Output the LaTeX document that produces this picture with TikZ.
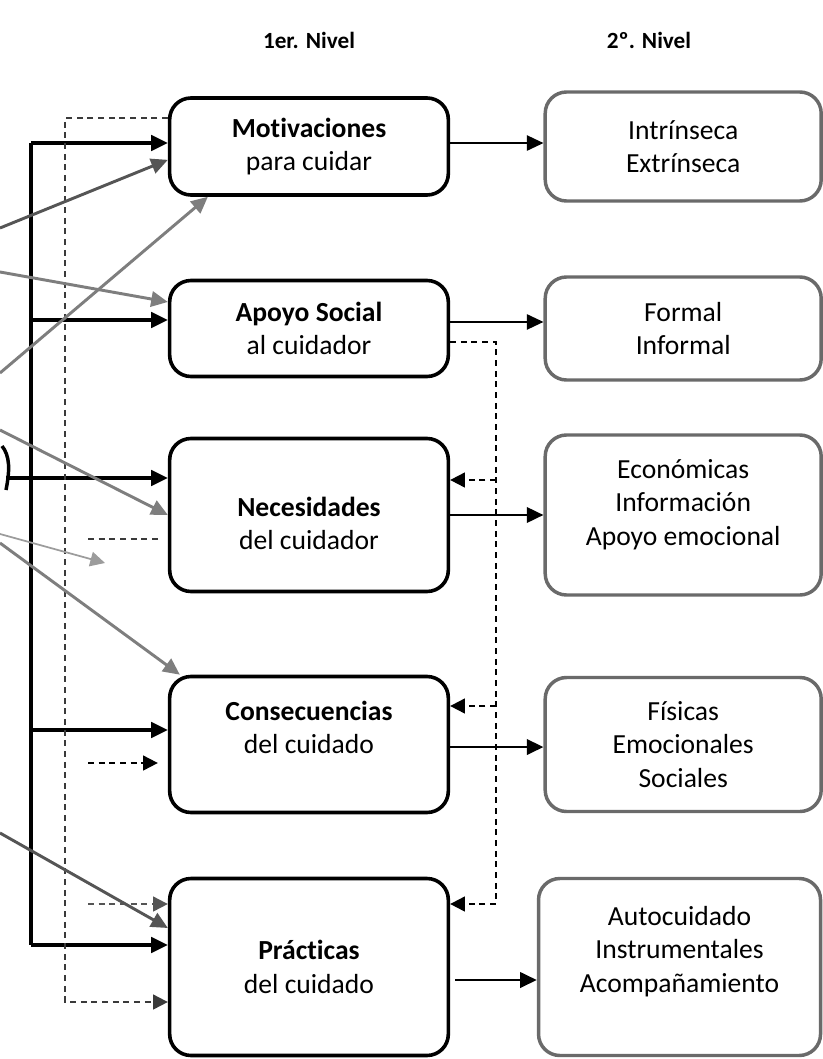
\documentclass[tikz,border=0pt]{standalone}
\usepackage{fontspec}
\setmainfont{Carlito}[Ligatures=CommonOff]
\usetikzlibrary{arrows.meta,positioning}

\definecolor{grisbox}{HTML}{6A6A6A}
\definecolor{grisosc}{HTML}{555555}
\definecolor{grismed}{HTML}{7E7E7E}
\definecolor{grisclaro}{HTML}{9C9C9C}
\definecolor{grisraya}{HTML}{3A3A3A}

\tikzset{
  nivel/.style={draw, line width=2.7pt, rounded corners=16pt, minimum width=209pt,
    align=center, inner sep=0pt, font=\fontsize{20.7}{25}\selectfont},
  detalle/.style={draw=grisbox, line width=2.6pt, rounded corners=16pt, minimum width=207pt,
    align=center, inner sep=0pt, font=\fontsize{20.7}{25}\selectfont},
  titulo/.style={font=\fontsize{17.4}{20}\selectfont\bfseries},
  flecha/.style={-{Triangle[length=12.5pt,width=11.5pt]}},
  flechita/.style={-{Triangle[length=11pt,width=11pt]}},
  tronco/.style={line width=2.6pt},
  fina/.style={line width=1.3pt},
  media/.style={line width=2pt},
  rayas/.style={grisraya, line width=1.5pt, dash pattern=on 4.5pt off 3.5pt},
  grisa/.style={grisosc, line width=2.2pt, flecha},
  grisb/.style={grismed, line width=2.2pt, flecha},
  grisc/.style={grisclaro, line width=1.3pt, flechita}
}

\begin{document}
\begin{tikzpicture}[x=0.75pt,y=-0.75pt]
\useasboundingbox (0,0) rectangle (823,1059);

% encabezados
\node[titulo] (niv1) at (309,40) {1er. Nivel};
\node[titulo] (niv2) at (649,40) {2º. Nivel};

% primer nivel
\node[nivel, minimum height=72.75pt] (mot) at (309,146.5) {\textbf{Motivaciones}\\para cuidar};
\node[nivel, minimum height=72pt] (apo) at (309,328.5) {\textbf{Apoyo Social}\\al cuidador};
\node[nivel, minimum height=114.75pt] (nec) at (309,515) {\mbox{}\\[2.5pt]\textbf{Necesidades}\\del cuidador};
\node[nivel, minimum height=102pt] (con) at (309,744.5) {\textbf{Consecuencias}\\del cuidado\\[0.5pt]\mbox{}};
\node[nivel, minimum height=132.75pt] (pra) at (309,967) {\textbf{Prácticas}\\del cuidado};

% segundo nivel
\node[detalle, minimum height=81.75pt, right=70pt of mot] (int) {Intrínseca\\Extrínseca};
\node[detalle, minimum height=77.25pt, right=70pt of apo] (for) {Formal\\Informal};
\node[detalle, minimum height=120pt, right=70pt of nec] (eco) {Económicas\\Información\\Apoyo emocional\\[-6pt]\mbox{}};
\node[detalle, minimum height=100.5pt, right=70pt of con] (fis) {Físicas\\Emocionales\\Sociales};
\node[detalle, minimum height=132.75pt, minimum width=211.5pt, right=65pt of pra] (aut) {Autocuidado\\Instrumentales\\Acompañamiento\\[1.5pt]\mbox{}};

% del primero al segundo
\draw[fina, flecha] ([yshift=2.6pt]mot.east) -- ([yshift=2.6pt]mot.east -| int.west);
\draw[fina, flecha] ([yshift=4.9pt]apo.east) -- ([yshift=4.9pt]apo.east -| for.west);
\draw[media, flecha] (nec.east) -- (nec.east -| eco.west);
\draw[media, flecha] ([yshift=-1.9pt]con.east) -- ([yshift=-1.9pt]con.east -| fis.west);
\draw[media, flecha] ([xshift=4pt,yshift=-9.75pt]pra.east) -- ([yshift=-9.75pt]pra.east -| aut.west);

% tronco de la izquierda
\coordinate (tA) at (31,143);
\coordinate (tB) at (31,320);
\coordinate (tC) at (31,730);
\coordinate (tD) at (31,945);
\draw[tronco] (tA) -- (tD);
\draw[tronco, flecha] (tA) -- (tA -| mot.west);
\draw[tronco, flecha] (tB) -- (tB -| apo.west);
\draw[tronco, flecha] (tC) -- (tC -| con.west);
\draw[tronco, flecha] (tD) -- (tD -| pra.west);

% entrada cortada a Necesidades
\coordinate (eNec) at (6,478);
\draw[tronco] (2,446) .. controls (10,456) and (10,470) .. (6,490);
\draw[tronco, flecha] (eNec) -- (eNec -| nec.west);

% lazo discontinuo
\coordinate (dA) at (65,118);
\coordinate (dB) at (65,1002);
\draw[rayas, flechita] (dA -| mot.west) -- (dA) -- (dB) -- (dB -| pra.west);
\coordinate (sA) at (88,539);
\draw[rayas] (sA) -- ++(72,0);
\coordinate (sB) at (88,763);
\draw[rayas, black, flechita] (sB) -- ([xshift=-7.5pt]sB -| con.west);
\coordinate (sC) at (88,904);
\draw[rayas, grisosc, flechita] (sC) -- (sC -| pra.west);

% flechas grises
\coordinate (gA) at (0,228);
\coordinate (gB) at (0,272);
\coordinate (gC) at (0,373);
\coordinate (gD) at (0,430);
\coordinate (gE) at (0,534);
\coordinate (gE2) at (105,563);
\coordinate (gF) at (0,543);
\coordinate (gG) at (0,833);
\draw[grisa] (gA) -- ([yshift=-10pt]mot.west);
\draw[grisb] (gB) -- ([yshift=19.9pt]apo.west);
\draw[grisb] (gC) -- ([xshift=30pt]mot.south west);
\draw[grisb] (gD) -- (nec.west);
\draw[grisc] (gE) -- (gE2);
\draw[grisb] (gF) -- ([xshift=9pt]con.north west);
\draw[grisa] (gG) -- ([yshift=29.25pt]pra.west);

% discontinua de la derecha
\coordinate (rA) at (496,342);
\coordinate (rN) at (496,480);
\coordinate (rC) at (496,706);
\coordinate (rB) at (496,904);
\draw[rayas, black, flechita] (rA -| apo.east) -- (rA) -- (rB) -- (rB -| pra.east);
\draw[rayas, black, flechita] (rN) -- (rN -| nec.east);
\draw[rayas, black, flechita] (rC) -- (rC -| con.east);
\end{tikzpicture}
\end{document}
